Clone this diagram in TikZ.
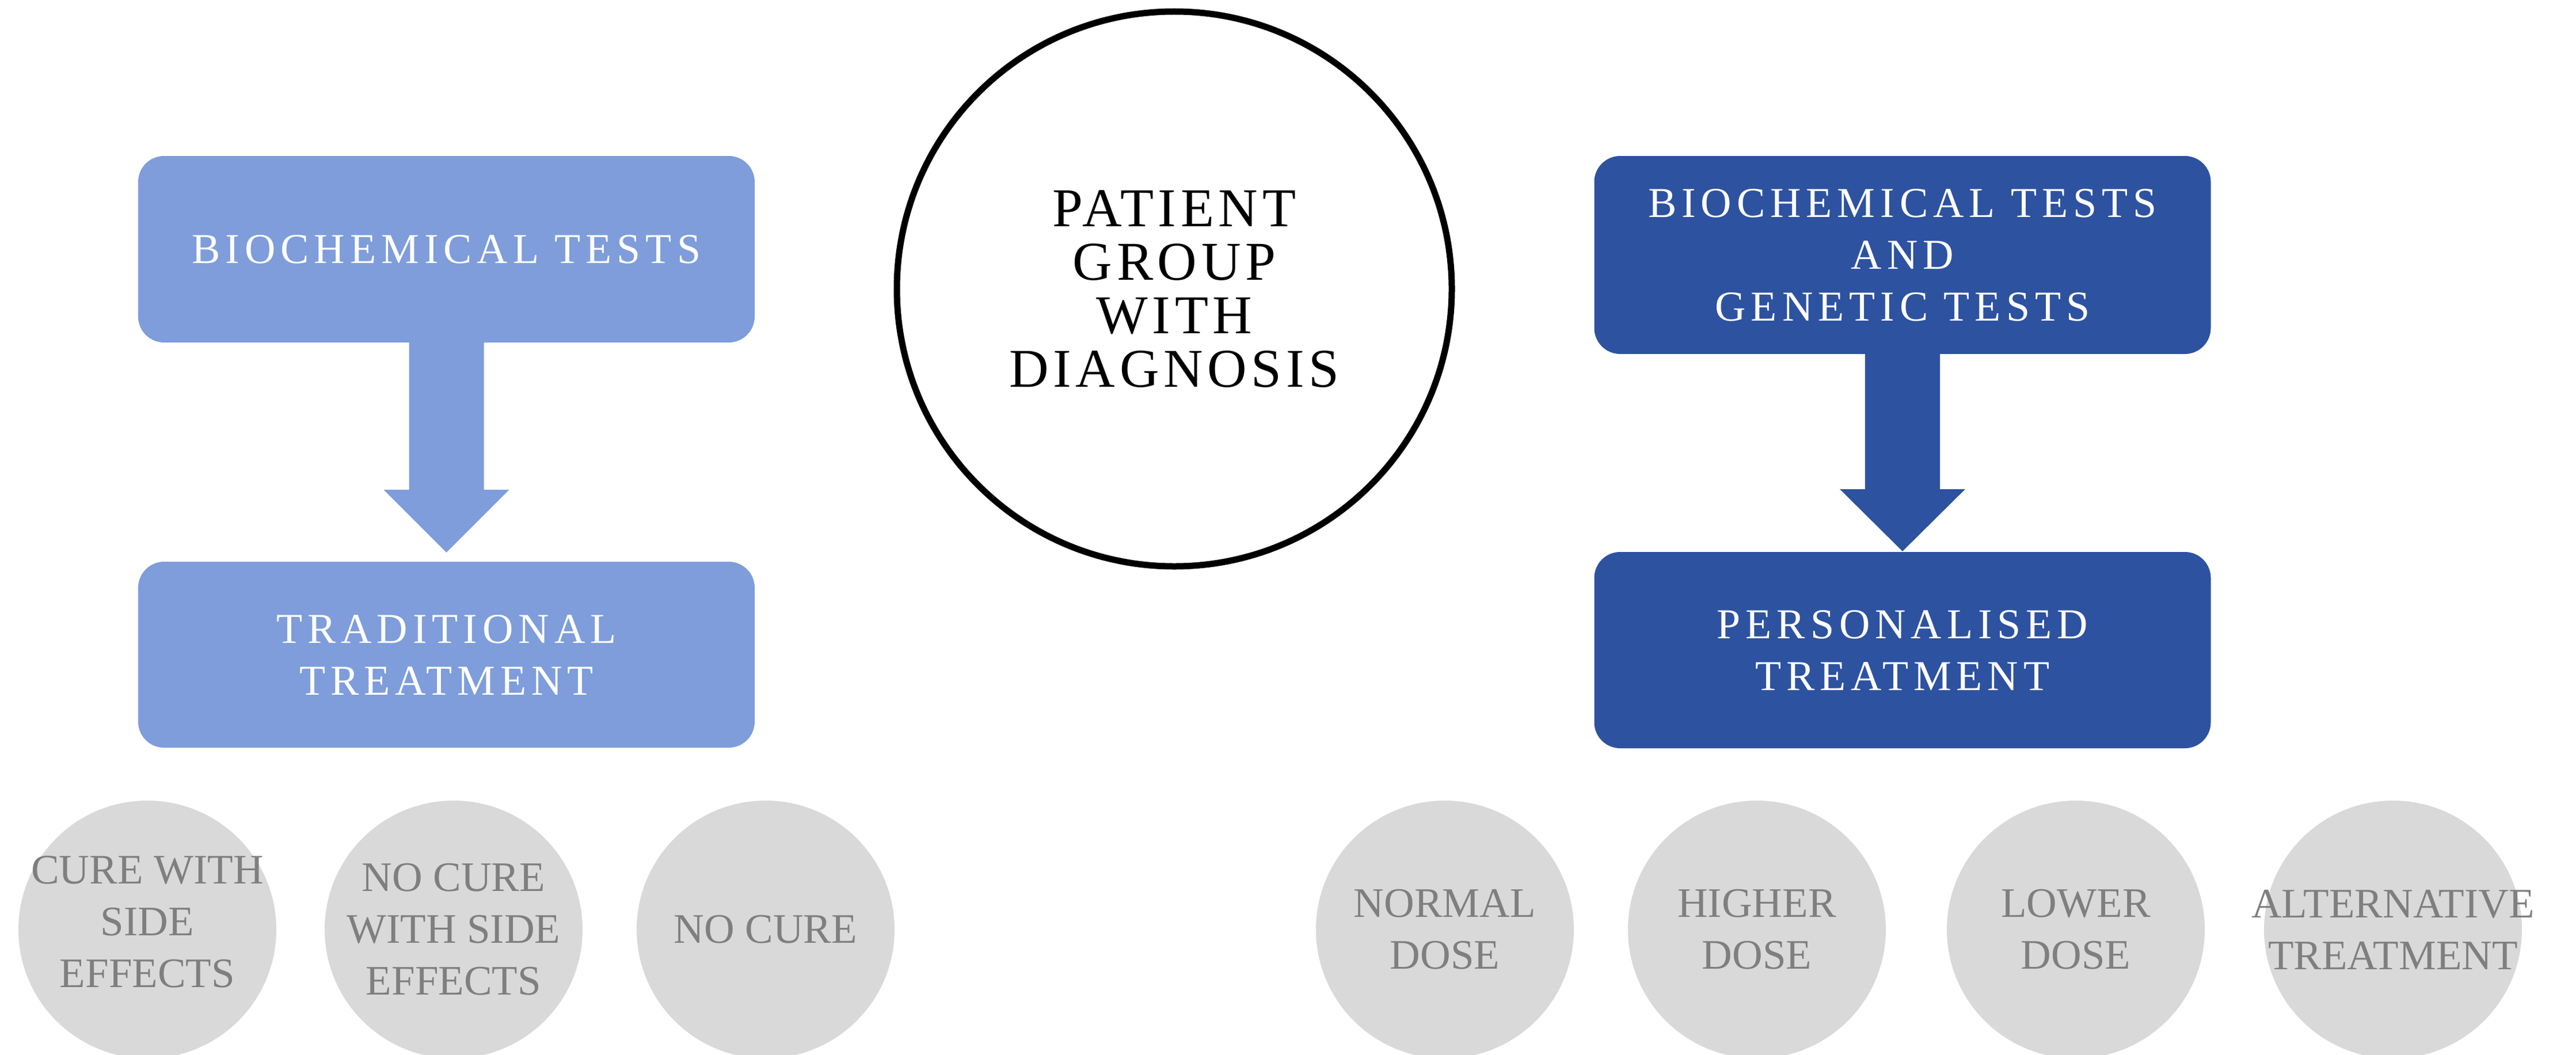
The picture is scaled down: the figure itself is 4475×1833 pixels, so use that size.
\documentclass[tikz,border=0pt]{standalone}
\usepackage{fontspec}
\setmainfont{Liberation Serif}
\newfontfamily\boxfont[LetterSpace=12]{Liberation Serif}
\newfontfamily\roundfont[LetterSpace=8]{Liberation Serif}
\definecolor{lightblue}{HTML}{7E9DDA}
\definecolor{darkblue}{HTML}{2D52A0}
\definecolor{bubblegray}{HTML}{D9D9D9}
\definecolor{textgray}{HTML}{7F7F7F}
\tikzset{
	testbox/.style={rounded corners=45pt,minimum width=1071pt,text=white,align=center,inner sep=0pt,font=\boxfont\fontsize{74}{90}\selectfont},
	bubble/.style={circle,fill=bubblegray,minimum size=448pt,inner sep=0pt},
	bubbletext/.style={text=textgray,align=center,inner sep=0pt,font=\fontsize{73}{90}\selectfont}
}
\begin{document}
\begin{tikzpicture}[x=1pt,y=-1pt]
		\useasboundingbox (0,0) rectangle (4475,1833);
		% left column
		\node[testbox,fill=lightblue,minimum height=324pt] (bioL) at (775.5,433) {BIOCHEMICAL TESTS};
		\node[testbox,fill=lightblue,minimum height=323pt] (tradL) at (775.5,1137.5) {TRADITIONAL\\TREATMENT};
		\fill[lightblue] ([xshift=-65pt]bioL.south) -- ([xshift=65pt]bioL.south) -- ([xshift=65pt,yshift=125pt]tradL.north) -- ([xshift=109pt,yshift=125pt]tradL.north) -- ([yshift=16pt]tradL.north) -- ([xshift=-109pt,yshift=125pt]tradL.north) -- ([xshift=-65pt,yshift=125pt]tradL.north) -- cycle;
		% centre
		\node[circle,draw=black,line width=11pt,minimum size=964pt,inner sep=0pt,align=center,font=\roundfont\fontsize{95}{93}\selectfont] (patient) at (2040,502) {PATIENT\\GROUP\\WITH\\DIAGNOSIS};
		% right column
		\node[testbox,fill=darkblue,minimum height=344pt] (bioR) at (3305,443) {BIOCHEMICAL TESTS\\AND\\GENETIC TESTS};
		\node[testbox,fill=darkblue,minimum height=341pt] (persR) at (3305,1129.5) {PERSONALISED\\TREATMENT};
		\fill[darkblue] ([xshift=-65pt]bioR.south) -- ([xshift=65pt]bioR.south) -- ([xshift=65pt,yshift=109pt]persR.north) -- ([xshift=109pt,yshift=109pt]persR.north) -- ([yshift=1pt]persR.north) -- ([xshift=-109pt,yshift=109pt]persR.north) -- ([xshift=-65pt,yshift=109pt]persR.north) -- cycle;
		% outcomes
		\node[bubble,label={[bubbletext,yshift=13pt]center:CURE WITH\\SIDE\\EFFECTS}] (cure) at (256,1615) {};
		\node[bubble,label={[bubbletext]center:NO CURE\\WITH SIDE\\EFFECTS}] (nocureside) at (788,1615) {};
		\node[bubble,label={[bubbletext]center:NO CURE}] (nocure) at (1330,1615) {};
		\node[bubble,label={[bubbletext]center:NORMAL\\DOSE}] (normal) at (2510,1615) {};
		\node[bubble,label={[bubbletext]center:HIGHER\\DOSE}] (higher) at (3052,1615) {};
		\node[bubble,label={[bubbletext]center:LOWER\\DOSE}] (lower) at (3606,1615) {};
		\node[bubble,label={[bubbletext]center:ALTERNATIVE\\TREATMENT}] (alt) at (4157,1615) {};
\end{tikzpicture}
\end{document}
